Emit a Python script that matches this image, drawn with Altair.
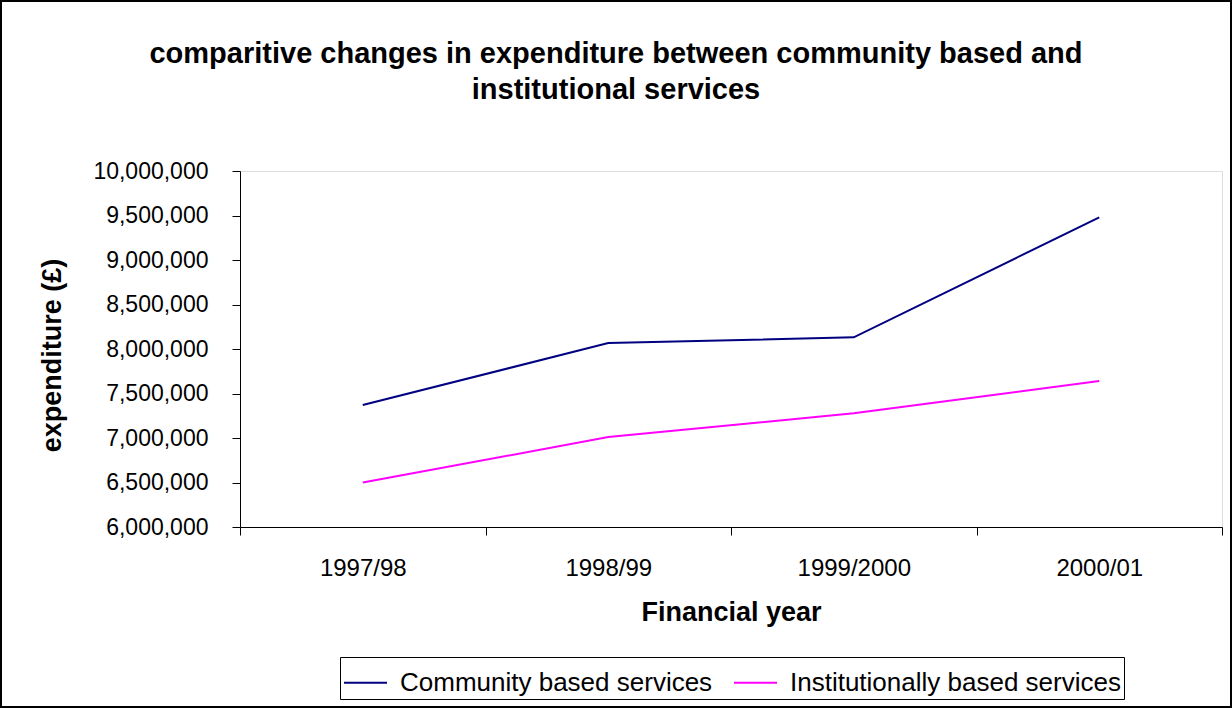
import altair as alt
import pandas as pd

years = ["1997/98", "1998/99", "1999/2000", "2000/01"]
series_names = ["Community based services", "Institutionally based services"]
community = [7370000, 8067000, 8131000, 9480000]
institutional = [6500000, 7010000, 7277000, 7640000]
y_ticks = [6000000, 6500000, 7000000, 7500000, 8000000, 8500000, 9000000, 9500000, 10000000]
colors = ["#000080", "#FF00FF"]

rows = []
for name, vals in zip(series_names, [community, institutional]):
    for yr, v in zip(years, vals):
        rows.append({"year": yr, "series": name, "value": v})
df = pd.DataFrame(rows)

FONT = "Liberation Sans"
W, H = 982, 356
LEFT, TOP = 240, 171

lines = alt.Chart(df).mark_line(strokeWidth=2).encode(
    x=alt.X("year:N", sort=years,
            scale=alt.Scale(type="band", paddingInner=0, paddingOuter=0),
            axis=alt.Axis(title="Financial year", labelAngle=0, tickBand="extent",
                          labelFontSize=24, labelFont=FONT, labelColor="black",
                          labelPadding=21, tickSize=8, tickColor="black",
                          domainColor="black", titleFont=FONT, titleFontSize=27,
                          titleFontWeight="bold", titleColor="black",
                          titleY=72, titleBaseline="top")),
    y=alt.Y("value:Q",
            scale=alt.Scale(domain=[6000000, 10000000], nice=False, zero=False),
            axis=alt.Axis(title="expenditure (£)", values=y_ticks, format=",.0f",
                          grid=False, labelFontSize=23, labelFont=FONT, labelColor="black",
                          labelPadding=24, tickSize=8, tickColor="black",
                          domainColor="black", titleFont=FONT, titleFontSize=27,
                          titleFontWeight="bold", titleColor="black",
                          titleX=-174, titleY=184, titleAnchor="middle")),
    color=alt.Color("series:N", sort=series_names,
                    scale=alt.Scale(domain=series_names, range=colors),
                    legend=alt.Legend(title=None, orient="none", direction="horizontal",
                                      legendX=100, legendY=486, symbolType="stroke",
                                      symbolSize=1849, symbolStrokeWidth=2,
                                      labelFontSize=26, labelFont=FONT, labelColor="black",
                                      labelOffset=12, strokeColor="black", padding=3,
                                      columnPadding=17, labelLimit=500, columns=2)),
)

frame = alt.Chart(pd.DataFrame({"a": [0]})).mark_rect(
    fill=None, stroke="black", strokeWidth=2
).encode(
    x=alt.value(-LEFT + 1), x2=alt.value(1232 - LEFT - 1),
    y=alt.value(-TOP + 1), y2=alt.value(708 - TOP - 1),
)

chart = alt.layer(lines, frame).properties(
    width=W, height=H,
    title=alt.TitleParams(
        ["comparitive changes in expenditure between community based and",
         "institutional services"],
        font=FONT, fontSize=29, fontWeight="bold", color="black",
        anchor="middle", dx=-115, offset=-105, lineHeight=36),
    autosize=alt.AutoSizeParams(type="none"),
    padding={"left": LEFT, "top": TOP, "right": 1232 - LEFT - W, "bottom": 708 - TOP - H},
).configure_view(stroke=None).configure(background="white")

chart.save("out.html", embed_options={"renderer": "svg", "actions": False})
